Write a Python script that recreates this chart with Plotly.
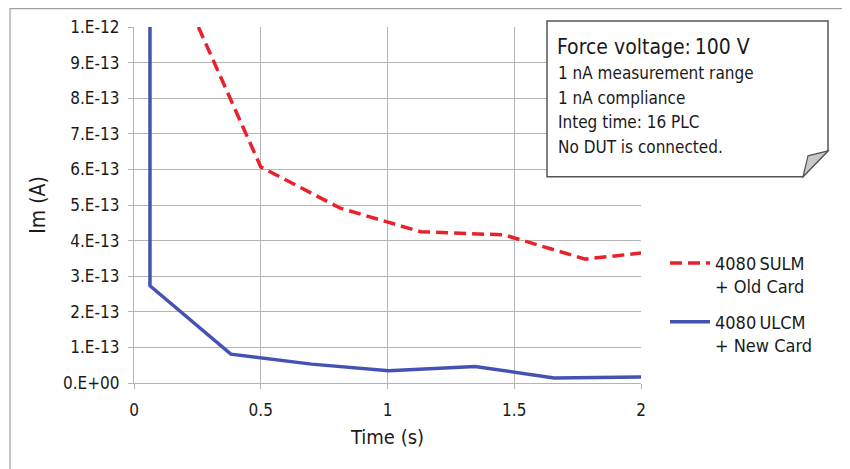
import plotly.graph_objects as go

# ---- data ----
ulcm_time = [0.063, 0.063, 0.382, 0.70, 1.005, 1.345, 1.657, 2.0]
ulcm_im = [1.0e-12, 2.73e-13, 0.81e-13, 0.53e-13, 0.345e-13, 0.465e-13, 0.14e-13, 0.17e-13]

sulm_time = [0.254, 0.50, 0.814, 1.13, 1.46, 1.78, 2.0]
sulm_im = [1.0e-12, 6.07e-13, 4.91e-13, 4.25e-13, 4.16e-13, 3.48e-13, 3.65e-13]

x_tickvals = [0, 0.5, 1, 1.5, 2]
x_ticktext = ["0", "0.5", "1", "1.5", "2"]
y_tickvals = [0, 1e-13, 2e-13, 3e-13, 4e-13, 5e-13, 6e-13, 7e-13, 8e-13, 9e-13, 1e-12]
y_ticktext = ["0.E+00", "1.E-13", "2.E-13", "3.E-13", "4.E-13", "5.E-13",
              "6.E-13", "7.E-13", "8.E-13", "9.E-13", "1.E-12"]

note_title = "Force voltage:\u2009100 V"
note_lines = ["1 nA measurement range", "1 nA compliance",
              "Integ time: 16 PLC", "No DUT is connected."]

FONT = "DejaVu Sans Condensed, Liberation Sans Narrow, Arial Narrow, sans-serif"
GRID = "#b4b4b4"
TXT = "#1a1a1a"

fig = go.Figure()
fig.add_trace(go.Scatter(
    x=sulm_time, y=sulm_im, mode="lines", legendgroup="a",
    name="4080\u2009SULM<br>+ Old Card",
    line=dict(color="#e8212b", width=3.5, dash="12px,6px"),
))
fig.add_trace(go.Scatter(
    x=ulcm_time, y=ulcm_im, mode="lines", legendgroup="b",
    name="4080\u2009ULCM<br>+ New Card",
    line=dict(color="#4453b3", width=3.5),
))

OFF = 8  # page body margin
W, H = 850 - OFF, 469 - OFF
L, T = 134 - OFF, 27 - OFF
pw, ph = 507, 356.5
R = W - L - pw
B = H - T - ph


def px(x):
    return (x - OFF - L) / pw


def py(y):
    return (T + ph - (y - OFF)) / ph


shapes = []
# outer frame (left/top visible)
shapes.append(dict(type="rect", xref="paper", yref="paper",
                   x0=px(10), x1=px(880), y0=py(500), y1=py(8.6),
                   line=dict(color="#a0a0a0", width=1.2), fillcolor="rgba(0,0,0,0)",
                   layer="below"))
# note box with folded corner
path = (f"M {px(547)},{py(21)} L {px(828)},{py(21)} L {px(828)},{py(151)} "
        f"L {px(803)},{py(177)} L {px(547)},{py(177)} Z")
shapes.append(dict(type="path", xref="paper", yref="paper", path=path,
                   line=dict(color="#555555", width=1.5), fillcolor="white", layer="above"))
fold = (f"M {px(828)},{py(151)} L {px(808)},{py(156)} L {px(803)},{py(177)} Z")
shapes.append(dict(type="path", xref="paper", yref="paper", path=fold,
                   line=dict(color="#555555", width=1.2), fillcolor="#c9c9c9", layer="above"))

annotations = [dict(xref="paper", yref="paper", x=px(555), y=py(47), text=note_title,
                    showarrow=False, xanchor="left", yanchor="middle",
                    font=dict(family=FONT, size=21, color=TXT))]
for i, t in enumerate(note_lines):
    annotations.append(dict(xref="paper", yref="paper", x=px(556), y=py(73 + 24.6 * i),
                            text=t, showarrow=False, xanchor="left", yanchor="middle",
                            font=dict(family=FONT, size=17, color=TXT)))

fig.update_layout(
    width=W, height=H,
    margin=dict(l=L, r=R, t=T, b=B, autoexpand=False),
    paper_bgcolor="white", plot_bgcolor="white",
    font=dict(family=FONT, size=17, color=TXT),
    shapes=shapes, annotations=annotations,
    showlegend=True,
    legend=dict(x=px(665), y=py(245), xanchor="left", yanchor="top",
                bgcolor="rgba(0,0,0,0)", valign="top",
                font=dict(family=FONT, size=18, color=TXT),
                tracegroupgap=9, itemwidth=40),
    xaxis=dict(range=[0, 2], tickvals=x_tickvals, ticktext=x_ticktext,
               showgrid=True, gridcolor=GRID, gridwidth=1.2,
               showline=True, linecolor=GRID, linewidth=1.2,
               ticks="outside", ticklen=5, tickcolor=GRID, ticklabelstandoff=6,
               tickfont=dict(family=FONT, size=17, color=TXT),
               title=dict(text="Time (s)", font=dict(family=FONT, size=20, color=TXT), standoff=11),
               zeroline=False),
    yaxis=dict(range=[0, 1e-12], tickvals=y_tickvals, ticktext=y_ticktext,
               showgrid=True, gridcolor=GRID, gridwidth=1.2,
               showline=True, linecolor=GRID, linewidth=1.2,
               ticks="outside", ticklen=5, tickcolor=GRID, ticklabelstandoff=5,
               tickfont=dict(family=FONT, size=17, color=TXT),
               title=dict(text="Im (A)", font=dict(family=FONT, size=21, color=TXT), standoff=11),
               zeroline=False),
)

fig.write_html("out.html")
